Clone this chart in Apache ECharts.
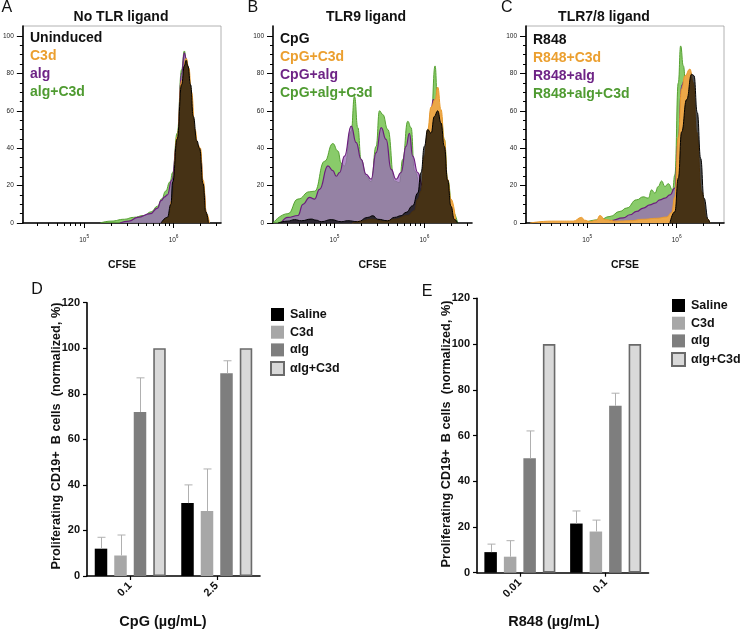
<!DOCTYPE html>
<html><head><meta charset="utf-8">
<script src="https://cdn.jsdelivr.net/npm/echarts@6/dist/echarts.min.js"></script>
<style>html,body{margin:0;padding:0;background:#fff}#c{width:744px;height:630px}</style>
</head><body><div id="c"></div>
<script>
// ---------- Histogram data: [log10(CFSE), % of max] ----------
const A_uninduced = [[5.86,0],[5.93,3],[5.97,10],[5.99,22],[6.04,45],[6.09,74],[6.12,84],[6.14,87],[6.16,84],[6.19,74],[6.22,57],[6.26,44],[6.29,40],[6.33,21],[6.36,6],[6.39,0]];
const A_c3d = [[5.87,0],[5.94,3],[5.98,12],[6.04,46],[6.09,76],[6.14,88],[6.17,83],[6.2,70],[6.24,50],[6.27,42],[6.3,40],[6.33,23],[6.37,5],[6.40,0]];
const A_alg = [[5.4,0],[5.5,1],[5.6,3],[5.74,5],[5.82,8],[5.86,12],[5.9,14],[5.93,15],[5.98,23],[6.04,44],[6.09,80],[6.12,91],[6.14,88],[6.18,70],[6.22,50],[6.26,42],[6.3,38],[6.33,20],[6.37,4],[6.39,0]];
const A_algC3d = [[5.18,0],[5.3,1],[5.45,2],[5.55,3],[5.67,4],[5.75,6],[5.82,9],[5.87,13],[5.91,17],[5.96,22],[5.99,27],[6.04,48],[6.09,82],[6.12,92],[6.14,88],[6.18,70],[6.22,50],[6.26,42],[6.3,38],[6.33,20],[6.37,4],[6.39,0]];

const B_cpg = [[4.37,0],[4.48,1],[4.556,1.8],[4.63,1.2],[4.741,2.1],[4.796,1.5],[4.852,0.7],[4.963,1.8],[5.074,0.7],[5.148,1.2],[5.259,0.7],[5.37,3],[5.426,3.9],[5.481,2],[5.593,1.2],[5.667,3],[5.741,3.9],[5.796,5.7],[5.87,9.2],[5.926,16],[5.963,27],[6.0,41],[6.037,50],[6.074,48],[6.111,57],[6.148,60],[6.185,53.5],[6.222,41],[6.259,23],[6.296,9],[6.333,2],[6.37,0]];
const B_cpgC3d = [[5.2,0],[5.296,1],[5.407,2],[5.556,1],[5.667,2],[5.815,4],[5.889,6.6],[5.926,12.8],[5.963,17],[6.0,35.8],[6.037,50],[6.074,62],[6.119,66],[6.148,72.7],[6.185,60.6],[6.222,44.7],[6.259,23.4],[6.296,12.8],[6.352,0]];
const B_cpgAlg = [[4.407,0],[4.481,3],[4.593,4],[4.648,10],[4.722,13.7],[4.778,12.8],[4.833,18],[4.926,30.5],[4.981,28],[5.019,25],[5.056,27],[5.111,35.8],[5.185,51.8],[5.241,43],[5.296,34],[5.352,26],[5.407,23.4],[5.463,37.6],[5.519,51],[5.574,44.7],[5.63,28.7],[5.685,23.4],[5.741,27],[5.796,41],[5.833,48],[5.87,35.8],[5.926,27],[5.981,19.9],[6.037,39],[6.074,60.6],[6.1,66],[6.13,62],[6.167,44.7],[6.222,27],[6.278,12.8],[6.333,0]];
const B_cpgAlgC3d = [[4.315,0],[4.481,5],[4.593,12.8],[4.722,16.7],[4.778,17],[4.889,33],[4.981,42.5],[5.037,38.5],[5.074,32],[5.111,30.5],[5.185,49],[5.222,67.7],[5.259,51],[5.296,34],[5.352,25],[5.407,22],[5.463,41],[5.5,60],[5.537,58],[5.593,50],[5.667,22.5],[5.722,21.6],[5.759,34],[5.815,54.4],[5.852,51],[5.889,28],[5.963,18],[6.019,27],[6.074,55],[6.119,84],[6.148,62],[6.185,57],[6.222,44.7],[6.259,23],[6.315,6],[6.37,0]];

const C_r848 = [[5.925,0],[5.98,6],[6.019,24],[6.056,48.7],[6.112,66],[6.168,79.6],[6.194,78.8],[6.231,59],[6.269,34.5],[6.306,13.3],[6.354,1.8],[6.373,0]];
const C_r848C3d = [[4.36,0],[4.6,1],[4.843,1],[4.937,3],[4.97,1.5],[5.03,0.8],[5.104,1.5],[5.142,4],[5.2,1.8],[5.33,1],[5.478,1.2],[5.627,2],[5.776,2.5],[5.888,3.2],[5.944,5.5],[5.98,14],[6.019,46],[6.056,71.7],[6.093,78.8],[6.149,82.3],[6.187,75],[6.224,48.7],[6.28,16.8],[6.336,2.7],[6.373,0]];
const C_r848Alg = [[5.14,0],[5.254,1.2],[5.403,2.7],[5.478,4.4],[5.552,6.2],[5.627,8],[5.701,9.7],[5.757,10.6],[5.813,12.4],[5.869,13.3],[5.925,15],[5.98,18.6],[6.019,45],[6.056,73.5],[6.093,77],[6.13,78.8],[6.168,66],[6.224,31],[6.28,9.7],[6.317,0]];
const C_r848AlgC3d = [[4.955,0],[5.142,1.8],[5.254,3.5],[5.366,6.2],[5.44,8],[5.552,12.4],[5.627,14],[5.683,13.3],[5.72,17.7],[5.757,16],[5.795,19.5],[5.832,22.5],[5.869,19.5],[5.907,21],[5.955,17.7],[5.98,25.7],[6.019,75],[6.045,94.7],[6.075,84],[6.112,66],[6.15,40],[6.205,17],[6.243,6],[6.28,0]];

const histTitles = ['No TLR ligand', 'TLR9 ligand', 'TLR7/8 ligand'];
const histLegendA = ['Uninduced', 'C3d', 'alg', 'alg+C3d'];
const histLegendB = ['CpG', 'CpG+C3d', 'CpG+alg', 'CpG+alg+C3d'];
const histLegendC = ['R848', 'R848+C3d', 'R848+alg', 'R848+alg+C3d'];
const histXMajor = [5, 6];
const histYMajor = [0, 20, 40, 60, 80, 100];

// ---------- Bar chart data ----------
const groupNames = ['Saline', 'C3d', '\u03b1Ig', '\u03b1Ig+C3d'];
const D_categories = ['0.1', '2.5'];
const D_saline = [12, 32];   const D_saline_sd = [5, 8];
const D_c3d = [9, 28.5];     const D_c3d_sd = [9, 18.5];
const D_aIg = [72, 89];      const D_aIg_sd = [15, 5.5];
const D_aIgC3d = [100, 100];
const E_categories = ['0.01', '0.1'];
const E_saline = [9, 21.5];  const E_saline_sd = [3.5, 5.5];
const E_c3d = [7, 18];       const E_c3d_sd = [7, 5];
const E_aIg = [50, 73];      const E_aIg_sd = [12, 5.5];
const E_aIgC3d = [100, 100];

// ---------- build ----------
const FONT = '"Liberation Sans", Arial, Helvetica, sans-serif';
const chart = echarts.init(document.getElementById('c'), null, {renderer: 'canvas'});

const XMIN = 4.315, XMAX = 6.53, YMAX = 105.35;
const minorX = [];
for (let e = 4; e <= 6; e++) for (let k = 2; k <= 9; k++) { const v = e + Math.log10(k); if (v > XMIN && v < XMAX) minorX.push(v); }
const minorY = [];
for (let v = 5; v < 105; v += 5) if (v % 20 !== 0) minorY.push(v);

const histPanels = [
  {left: 22, width: 199, top: 26, height: 197, border: true, series: [A_algC3d, A_alg, A_c3d, A_uninduced], legend: histLegendA, lx: 30, ly: 38, title: histTitles[0], tx: 121, letter: 'A', lxx: 7.5},
  {left: 273, width: 199, top: 26, height: 197, border: false, series: [B_cpgAlgC3d, B_cpgAlg, B_cpgC3d, B_cpg], legend: histLegendB, lx: 280, ly: 39, title: histTitles[1], tx: 366, letter: 'B', lxx: 253.5},
  {left: 526, width: 198, top: 26, height: 197, border: true, series: [C_r848AlgC3d, C_r848Alg, C_r848C3d, C_r848], legend: histLegendC, lx: 533, ly: 40, title: histTitles[2], tx: 604, letter: 'C', lxx: 507}
];
const histStyle = [
  {line: '#56a132', area: 'rgba(104,188,64,0.78)', lw: 1},
  {line: '#6b1d7d', area: 'rgba(154,105,184,0.75)', lw: 1.2},
  {line: '#e99a2c', area: '#eca748', lw: 1},
  {line: '#000000', area: 'rgba(0,0,0,0.7)', lw: 1}
];
const legendColors = ['#111111', '#eb9f2f', '#6e2486', '#4f9b31'];

const grids = [], xAxes = [], yAxes = [], series = [], graphics = [];

histPanels.forEach((p, i) => {
  grids.push({left: p.left, top: p.top, width: p.width, height: p.height, show: p.border, borderColor: '#a0a0a0', borderWidth: 0.8, containLabel: false});
  const xi = xAxes.length, yi = yAxes.length;
  xAxes.push({type: 'value', gridIndex: i, position: 'bottom', min: XMIN, max: XMAX,
    axisLine: {show: true, onZero: false, lineStyle: {color: '#000', width: 1.6}},
    axisTick: {show: true, customValues: histXMajor, length: 5, lineStyle: {color: '#000', width: 1}},
    axisLabel: {customValues: histXMajor, margin: 11, formatter: v => '{b|10}{s|' + Math.round(v) + '}',
      rich: {b: {fontSize: 6.5, fontFamily: FONT, color: '#222', lineHeight: 10, verticalAlign: 'bottom'},
             s: {fontSize: 4.8, fontFamily: FONT, color: '#222', lineHeight: 5, verticalAlign: 'top'}}},
    splitLine: {show: false},
    name: 'CFSE', nameLocation: 'middle', nameGap: 37,
    nameTextStyle: {fontFamily: FONT, fontWeight: 'bold', fontSize: 10.5, color: '#111'}});
  xAxes.push({type: 'value', gridIndex: i, position: 'bottom', min: XMIN, max: XMAX,
    axisLine: {show: false, onZero: false}, axisTick: {show: true, customValues: minorX, length: 3, lineStyle: {color: '#000', width: 1}},
    axisLabel: {show: false}, splitLine: {show: false}});
  yAxes.push({type: 'value', gridIndex: i, position: 'left', min: 0, max: YMAX,
    axisLine: {show: true, onZero: false, lineStyle: {color: '#000', width: 1.6}},
    axisTick: {show: true, customValues: histYMajor, length: 6, lineStyle: {color: '#000', width: 1}},
    axisLabel: {customValues: histYMajor, margin: 9, fontSize: 6.5, fontFamily: FONT, color: '#222'},
    splitLine: {show: false}});
  yAxes.push({type: 'value', gridIndex: i, position: 'left', offset: 0, min: 0, max: YMAX,
    axisLine: {show: false, onZero: false}, axisTick: {show: true, customValues: minorY, length: 3, lineStyle: {color: '#000', width: 1}},
    axisLabel: {show: false}, splitLine: {show: false}});
  p.series.forEach((d, k) => {
    const st = histStyle[k];
    series.push({type: 'line', xAxisIndex: xi, yAxisIndex: yi, data: d, showSymbol: false, symbol: 'none',
      smooth: 0.5, smoothMonotone: 'x', lineStyle: {color: st.line, width: st.lw}, areaStyle: {color: st.area, opacity: 1},
      silent: true, z: 2 + k});
  });
  graphics.push({type: 'text', left: p.lxx - 6, top: 0, style: {text: p.letter, font: '16px ' + FONT, fill: '#111'}});
  graphics.push({type: 'text', x: p.tx, y: 17.5, style: {text: p.title, font: 'bold 14px ' + FONT, fill: '#111', textAlign: 'center', textVerticalAlign: 'middle'}});
  p.legend.forEach((t, k) => {
    graphics.push({type: 'text', x: p.lx, y: p.ly + 18 * k, z: 50, style: {text: t, font: 'bold 14px ' + FONT, fill: legendColors[k], textAlign: 'left', textVerticalAlign: 'middle'}});
  });
});

const barColors = ['#000000', '#a7a7a7', '#7e7e7e', '#d9d9d9'];
const BARW = 12.5, STEP = 19.5, CAP = 4;
const barPanels = [
  {left: 87, top: 302.7, width: 173, height: 273.3, cats: D_categories, vals: [D_saline, D_c3d, D_aIg, D_aIgC3d], sds: [D_saline_sd, D_c3d_sd, D_aIg_sd, null],
   legendLeft: 270, legendTop: 308, xname: 'CpG (\u00b5g/mL)', xnx: 163, ynx: 56, yny: 436, letter: 'D', lx: 37, ly: 290},
  {left: 477, top: 298.3, width: 171.5, height: 274.4, cats: E_categories, vals: [E_saline, E_c3d, E_aIg, E_aIgC3d], sds: [E_saline_sd, E_c3d_sd, E_aIg_sd, null],
   legendLeft: 671, legendTop: 299, xname: 'R848 (\u00b5g/mL)', xnx: 554, ynx: 446.5, yny: 434, letter: 'E', lx: 427, ly: 291.5}
];
const legends = [];
barPanels.forEach((p, j) => {
  const gi = grids.length;
  grids.push({left: p.left, top: p.top, width: p.width, height: p.height});
  const xi = xAxes.length, yi = yAxes.length;
  xAxes.push({type: 'category', gridIndex: gi, position: 'bottom', data: p.cats,
    axisLine: {show: true, lineStyle: {color: '#000', width: 1.6}},
    axisTick: {show: true, alignWithLabel: true, length: 4, lineStyle: {color: '#000', width: 1.2}},
    axisLabel: {rotate: 45, margin: 8, fontSize: 11, fontWeight: 'bold', fontFamily: FONT, color: '#111'}});
  yAxes.push({type: 'value', gridIndex: gi, position: 'left', min: 0, max: 120, interval: 20,
    axisLine: {show: true, lineStyle: {color: '#000', width: 1.6}},
    axisTick: {show: true, length: 4, lineStyle: {color: '#000', width: 1.2}},
    axisLabel: {margin: 7, fontSize: 11, fontWeight: 'bold', fontFamily: FONT, color: '#111'},
    splitLine: {show: false}});
  p.vals.forEach((v, k) => {
    series.push({type: 'bar', name: groupNames[k], xAxisIndex: xi, yAxisIndex: yi, data: v, barWidth: BARW, barGap: ((STEP - BARW) / BARW * 100) + '%',
      itemStyle: {color: barColors[k], borderColor: k === 3 ? '#6a6a6a' : barColors[k], borderWidth: k === 3 ? 1.6 : 0}, silent: true, z: 2});
  });
  p.vals.forEach((v, k) => {
    if (!p.sds[k]) return;
    const sd = p.sds[k];
    series.push({type: 'custom', xAxisIndex: xi, yAxisIndex: yi, silent: true, z: 5,
      data: v.map((m, c) => [c, m, m + sd[c]]),
      renderItem: (params, api) => {
        const b = api.coord([api.value(0), api.value(1)]);
        const t = api.coord([api.value(0), api.value(2)]);
        const x = Math.round(b[0] + (k - 1.5) * STEP) + 0.5;
        const st = {stroke: '#b0b0b0', lineWidth: 1};
        return {type: 'group', children: [
          {type: 'line', shape: {x1: x, y1: b[1], x2: x, y2: t[1]}, style: st},
          {type: 'line', shape: {x1: x - CAP, y1: t[1], x2: x + CAP, y2: t[1]}, style: st}]};
      }});
  });
  legends.push({orient: 'vertical', left: p.legendLeft, top: p.legendTop, padding: 0, itemWidth: 13, itemHeight: 13, itemGap: 4.7, icon: 'rect',
    data: groupNames, selectedMode: false,
    textStyle: {fontFamily: FONT, fontWeight: 'bold', fontSize: 12.5, color: '#111', padding: [0, 0, 0, 1]}});
  graphics.push({type: 'text', x: p.xnx, y: 622, style: {text: p.xname, font: 'bold 14.5px ' + FONT, fill: '#111', textAlign: 'center', textVerticalAlign: 'middle'}});
  graphics.push({type: 'text', x: p.ynx, y: p.yny, rotation: Math.PI / 2, style: {text: 'Proliferating CD19+  B cells  (normalized, %)', font: 'bold 12.7px ' + FONT, fill: '#111', textAlign: 'center', textVerticalAlign: 'middle'}});
  graphics.push({type: 'text', x: p.lx, y: p.ly, style: {text: p.letter, font: '16px ' + FONT, fill: '#111', textAlign: 'center', textVerticalAlign: 'middle'}});
});

chart.setOption({
  animation: false,
  backgroundColor: '#ffffff',
  textStyle: {fontFamily: FONT},
  grid: grids, xAxis: xAxes, yAxis: yAxes, series: series, legend: legends, graphic: graphics
});
</script></body></html>
